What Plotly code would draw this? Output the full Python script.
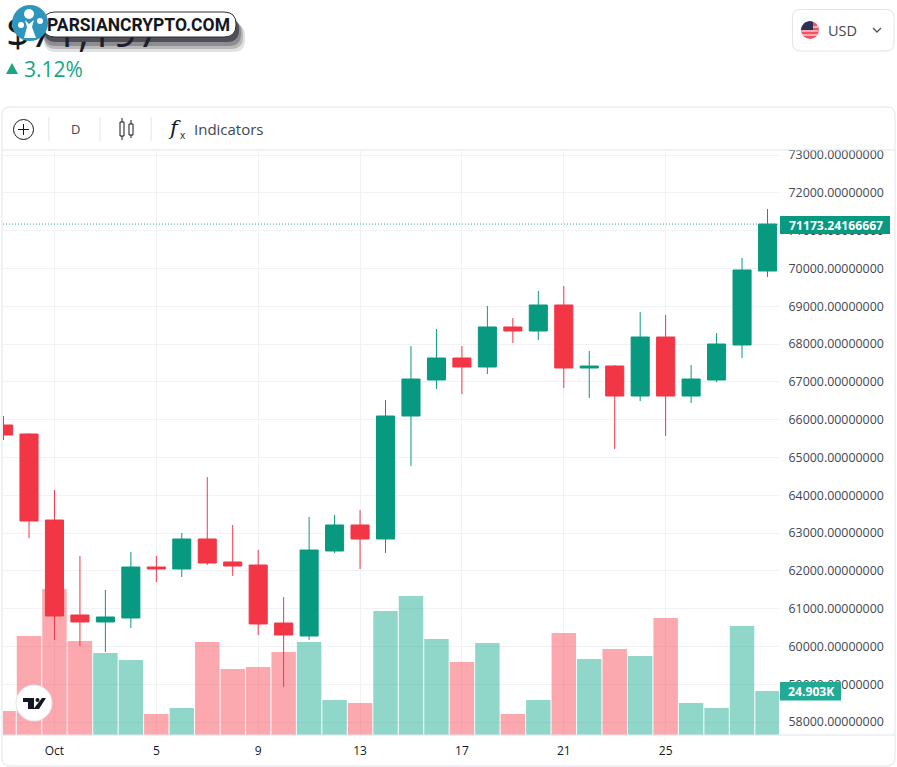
import plotly.graph_objects as go

W, H = 897, 767

dates = ["2024-09-29", "2024-09-30", "2024-10-01", "2024-10-02", "2024-10-03", "2024-10-04", "2024-10-05",
         "2024-10-06", "2024-10-07", "2024-10-08", "2024-10-09", "2024-10-10", "2024-10-11", "2024-10-12",
         "2024-10-13", "2024-10-14", "2024-10-15", "2024-10-16", "2024-10-17", "2024-10-18", "2024-10-19",
         "2024-10-20", "2024-10-21", "2024-10-22", "2024-10-23", "2024-10-24", "2024-10-25", "2024-10-26",
         "2024-10-27", "2024-10-28", "2024-10-29"]
opens = [65857, 65619, 63344, 60831, 60646, 60751, 62100, 62048, 62841, 62233, 62153, 60619, 60275, 62524, 63212,
         62841, 66095, 67048, 67630, 67392, 68450, 68344, 69032, 67365, 67418, 66624, 68185, 66624, 67048, 67974,
         69931]
highs = [66095, 65645, 64138, 62392, 61492, 62497, 62392, 63000, 64481, 63212, 62550, 61307, 63423, 63476, 63608,
         66519, 67947, 68397, 67947, 69005, 68688, 69402, 69534, 67815, 67444, 68847, 68767, 67444, 68291, 70275,
         71571]
lows = [65460, 62868, 60169, 60011, 59852, 60487, 61704, 61836, 62153, 61862, 60302, 58926, 60169, 62471, 62048,
        62471, 64772, 66810, 66677, 67206, 68026, 68106, 66836, 66571, 65222, 66492, 65566, 66439, 66995, 67630,
        69772]
closes = [65593, 63317, 60804, 60646, 60778, 62100, 62048, 62841, 62206, 62127, 60593, 60302, 62550, 63212, 62841,
          66095, 67074, 67630, 67392, 68450, 68344, 69032, 67365, 67418, 66624, 68185, 66624, 67074, 68000, 69958,
          71173.24]
volumes = [13.6, 56.0, 82.6, 53.2, 46.4, 42.5, 11.9, 15.3, 52.6, 37.4, 38.5, 47.0, 52.6, 19.8, 18.1, 70.2, 78.7,
           54.3, 41.3, 52.1, 11.9, 19.8, 57.7, 43.0, 48.7, 44.7, 66.2, 18.1, 15.3, 61.7, 24.903]

price_ticks = [58000, 59000, 60000, 61000, 62000, 63000, 64000, 65000, 66000, 67000, 68000, 69000, 70000, 71000,
               72000, 73000]
date_ticks = ["2024-10-01", "2024-10-05", "2024-10-09", "2024-10-13", "2024-10-17", "2024-10-21", "2024-10-25"]
date_labels = ["Oct", "5", "9", "13", "17", "21", "25"]

UP = "#089981"
DOWN = "#F23645"
UP_VOL = "rgba(12,168,140,0.46)"
DOWN_VOL = "rgba(248,57,73,0.44)"
BORDER = "#e0e3eb"
GRID = "#f0f2f5"
TEXT = "#434651"
FONT = "Open Sans"


# page pixels to paper fractions
def px(x):
    return x / W


def py(y):
    return 1 - y / H


def rect(x0, y0, x1, y1, **kw):
    return dict(type="rect", xref="paper", yref="paper", x0=px(x0), x1=px(x1), y0=py(y0), y1=py(y1), **kw)


def line(x0, y0, x1, y1, color=BORDER, width=1):
    return dict(type="line", xref="paper", yref="paper", x0=px(x0), x1=px(x1), y0=py(y0), y1=py(y1),
                line=dict(color=color, width=width))


def circle(cx, cy, r, **kw):
    return dict(type="circle", xref="paper", yref="paper", x0=px(cx - r), x1=px(cx + r), y0=py(cy + r), y1=py(cy - r), **kw)


def path(points, fill="white", color="rgba(0,0,0,0)", width=0, close=True):
    d = "M " + " L ".join(f"{px(x):.5f},{py(y):.5f}" for x, y in points) + (" Z" if close else "")
    return dict(type="path", xref="paper", yref="paper", path=d, fillcolor=fill, line=dict(color=color, width=width))


def rounded(x0, y0, x1, y1, r, **kw):
    d = (f"M {px(x0 + r):.5f},{py(y0):.5f} L {px(x1 - r):.5f},{py(y0):.5f} "
         f"Q {px(x1):.5f},{py(y0):.5f} {px(x1):.5f},{py(y0 + r):.5f} L {px(x1):.5f},{py(y1 - r):.5f} "
         f"Q {px(x1):.5f},{py(y1):.5f} {px(x1 - r):.5f},{py(y1):.5f} L {px(x0 + r):.5f},{py(y1):.5f} "
         f"Q {px(x0):.5f},{py(y1):.5f} {px(x0):.5f},{py(y1 - r):.5f} L {px(x0):.5f},{py(y0 + r):.5f} "
         f"Q {px(x0):.5f},{py(y0):.5f} {px(x0 + r):.5f},{py(y0):.5f} Z")
    return dict(type="path", xref="paper", yref="paper", path=d, **kw)


def label(x, y, text, size=14, color=TEXT, xanchor="left", family=FONT, **kw):
    return dict(xref="paper", yref="paper", x=px(x), y=py(y), text=text, showarrow=False, xanchor=xanchor,
                yanchor="middle", font=dict(size=size, color=color, family=family), **kw)


fig = go.Figure()

fig.add_trace(go.Bar(
    x=dates,
    y=volumes,
    marker=dict(color=[UP_VOL if c >= o else DOWN_VOL for o, c in zip(opens, closes)], line=dict(width=0)),
    xaxis="x",
    yaxis="y",
    hoverinfo="skip",
))

fig.add_trace(go.Candlestick(
    x=dates,
    open=opens,
    high=highs,
    low=lows,
    close=closes,
    increasing=dict(line=dict(color=UP, width=1), fillcolor=UP),
    decreasing=dict(line=dict(color=DOWN, width=1), fillcolor=DOWN),
    whiskerwidth=0,
    xaxis="x",
    yaxis="y2",
))

shapes = [
    # card and toolbar
    rounded(2, 107, 895, 766, 8, line=dict(color=BORDER, width=1), fillcolor="white", layer="below"),
    line(3, 150, 895, 150),
    line(3, 735, 895, 735),
    line(49, 117, 49, 141),
    line(100, 117, 100, 141),
    line(151, 117, 151, 141),
    # plus icon
    circle(23.5, 129.5, 10, line=dict(color="#131722", width=1), fillcolor="white"),
    line(18, 129.5, 29, 129.5, "#131722"),
    line(23.5, 124, 23.5, 135, "#131722"),
    # candle icon
    rect(120, 122, 124, 136, line=dict(color="#131722", width=1), fillcolor="white"),
    line(122, 118, 122, 122, "#131722"),
    line(122, 136, 122, 140, "#131722"),
    rect(129, 124, 133, 135, line=dict(color="#131722", width=1), fillcolor="white"),
    line(131, 120, 131, 124, "#131722"),
    line(131, 135, 131, 138, "#131722"),
    # price line
    dict(type="line", xref="paper", yref="y2", x0=px(3), x1=px(779), y0=closes[-1], y1=closes[-1],
         line=dict(color="#22ab94", width=1, dash="1px,2px")),
    # currency button
    rounded(792.5, 9.5, 894, 51, 8, line=dict(color=BORDER, width=1), fillcolor="white"),
    circle(810, 30, 9, line=dict(width=0), fillcolor="#f4525f"),
    line(802, 27, 818, 27, "#f6d5d8", 1.4),
    line(801.5, 31, 818.5, 31, "#f6d5d8", 1.4),
    line(802.5, 35, 817.5, 35, "#f6d5d8", 1.4),
    path([(801, 30), (802, 26), (805, 22.5), (810, 21), (813, 22), (813, 30)], fill="#2b3157"),
    path([(873, 28), (877, 32), (881, 28)], fill="rgba(0,0,0,0)", color="#50535e", width=1.3, close=False),
    # arrow
    path([(6, 74), (12, 63), (18, 74)], fill="#1aa583"),
    # headline price sits in a shape label so the watermark can cover it
    rect(3, 5, 170, 61, line=dict(width=0), fillcolor="rgba(0,0,0,0)",
         label=dict(text="$71,197", textposition="middle left", padding=0,
                    font=dict(size=42, color="#131722", family=FONT))),
    # watermark shadow, layered
    rounded(44, 24, 245, 52, 12, line=dict(width=0), fillcolor="rgba(40,40,50,0.14)"),
    rounded(44, 22, 243, 49, 12, line=dict(width=0), fillcolor="rgba(40,40,50,0.22)"),
    rounded(44, 20, 241, 46, 12, line=dict(width=0), fillcolor="rgba(40,40,50,0.3)"),
    rounded(44, 17, 239, 42, 12, line=dict(width=0), fillcolor="rgba(30,30,40,0.55)"),
    rounded(43, 12, 236, 37, 12, line=dict(color="#333", width=1), fillcolor="white"),
    circle(30, 23, 18, line=dict(width=0), fillcolor="#2e96bd"),
    circle(29, 14, 5, line=dict(width=0), fillcolor="white"),
    circle(21, 25, 3, line=dict(width=0), fillcolor="white"),
    circle(40, 21, 3, line=dict(width=0), fillcolor="white"),
    path([(24, 38), (27, 27), (25, 20), (29, 24), (34, 20), (32, 27), (36, 38)], fill="white"),
    # tradingview badge
    circle(34, 703, 18, line=dict(color="#e4e7ec", width=1), fillcolor="white"),
    path([(23, 698), (34, 698), (34, 709), (28, 709), (28, 702), (23, 702)], fill="#131722"),
    path([(42, 698), (46, 698), (39, 709), (33.5, 709)], fill="#131722"),
    circle(37.5, 700, 2, line=dict(width=0), fillcolor="#131722"),
    # value tags
    rect(780, 216, 890, 234, line=dict(width=0), fillcolor=UP),
    rect(780, 682, 841, 700.5, line=dict(width=0), fillcolor="#22ab94"),
]

annotations = [
    label(45, 25, "<b>PARSIANCRYPTO.COM</b>", size=17.5, color="#131722", family="Roboto"),
    label(22, 69, "3.12%", size=21, color="#1aa583"),
    label(826, 30, "USD", size=14.5),
    label(75, 129, "D", size=13, xanchor="center"),
    label(166, 128, "<i>f</i>", size=21, color="#131722", family="DejaVu Serif"),
    label(178, 135, "x", size=10, color="#131722"),
    label(192, 129, "Indicators", size=15),
    label(787, 225, "<b>71173.24166667</b>", size=12.2, color="white"),
    label(786, 691, "<b>24.903K</b>", size=12.2, color="white"),
]

fig.update_layout(
    width=W,
    height=H,
    margin=dict(l=0, r=0, t=0, b=0, autoexpand=False),
    paper_bgcolor="white",
    plot_bgcolor="rgba(0,0,0,0)",
    showlegend=False,
    bargap=0.04,
    boxgap=0.29,
    boxgroupgap=0,
    font=dict(family=FONT, color=TEXT),
    shapes=shapes,
    annotations=annotations,
    xaxis=dict(
        domain=[px(3), px(779)],
        type="date",
        range=["2024-09-28 23:30", "2024-10-29 10:50"],
        tickmode="array",
        tickvals=date_ticks,
        ticktext=date_labels,
        tickfont=dict(size=12, color="#131722"),
        ticks="outside",
        ticklen=5,
        tickcolor="rgba(0,0,0,0)",
        showgrid=True,
        gridcolor=GRID,
        gridwidth=1,
        zeroline=False,
        showline=False,
        rangeslider=dict(visible=False),
    ),
    yaxis=dict(
        domain=[py(735), py(151)],
        range=[0, 330.5],
        visible=False,
        showgrid=False,
        fixedrange=True,
    ),
    yaxis2=dict(
        domain=[py(735), py(151)],
        overlaying="y",
        side="right",
        anchor="x",
        range=[57656, 73106],
        tickmode="array",
        tickvals=price_ticks,
        ticktext=[f"{v:.8f}" for v in price_ticks],
        tickfont=dict(size=12.4, color=TEXT),
        ticks="outside",
        ticklen=6,
        tickcolor="rgba(0,0,0,0)",
        showgrid=True,
        gridcolor=GRID,
        gridwidth=1,
        zeroline=False,
        showline=False,
    ),
)

fig.write_html("out.html", config=dict(displayModeBar=False), post_script="document.body.style.margin='0';")
